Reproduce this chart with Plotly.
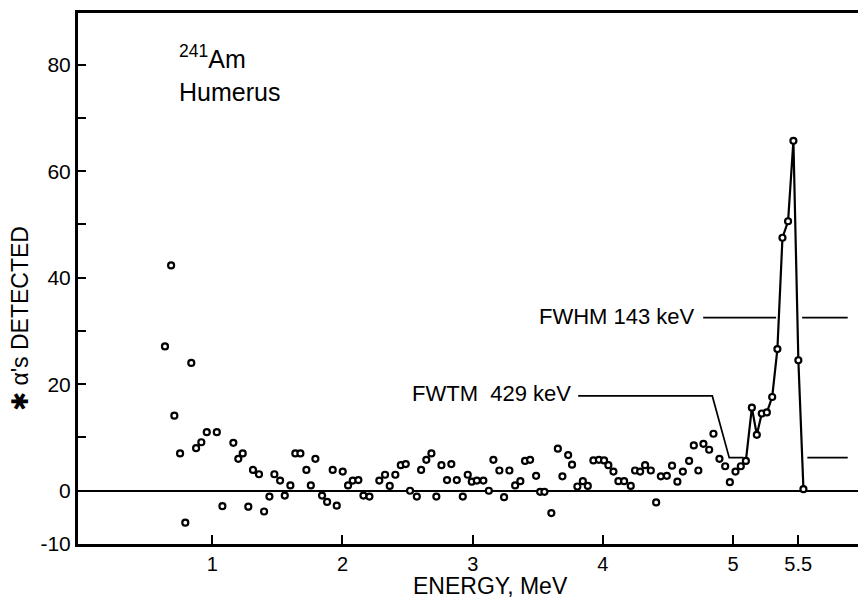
import plotly.graph_objects as go

# ---- data (energy in MeV, counts of alphas) ----
energy_mev = [0.637, 0.684, 0.709, 0.753, 0.793, 0.839, 0.876, 0.916, 0.958, 1.035,
              1.078, 1.162, 1.200, 1.234, 1.277, 1.313, 1.359, 1.398, 1.439, 1.477,
              1.521, 1.557, 1.600, 1.638, 1.677, 1.723, 1.757, 1.792, 1.843, 1.882,
              1.925, 1.956, 2.002, 2.043, 2.079, 2.122, 2.161, 2.207, 2.283, 2.327,
              2.363, 2.406, 2.448, 2.486, 2.519, 2.571, 2.604, 2.644, 2.683, 2.721,
              2.760, 2.803, 2.836, 2.878, 2.924, 2.962, 2.993, 3.032, 3.082, 3.124,
              3.159, 3.205, 3.241, 3.282, 3.326, 3.366, 3.402, 3.441, 3.487, 3.518,
              3.551, 3.604, 3.654, 3.689, 3.733, 3.763, 3.804, 3.846, 3.884, 3.927,
              3.969, 4.009, 4.042, 4.081, 4.119, 4.163, 4.214, 4.247, 4.286, 4.324,
              4.368, 4.409, 4.445, 4.491, 4.531, 4.572, 4.614, 4.662, 4.698, 4.733,
              4.772, 4.816, 4.849, 4.895, 4.939, 4.975, 5.018, 5.059]
alphas = [27.1, 42.3, 14.1, 7.0, -6.0, 24.0, 8.0, 9.1, 11.0, 11.0,
          -2.9, 9.0, 6.0, 7.0, -3.0, 3.9, 3.1, -3.9, -1.1, 3.1,
          1.9, -0.9, 1.0, 7.0, 7.0, 3.9, 1.0, 6.0, -0.9, -2.1,
          3.9, -2.8, 3.6, 1.0, 1.9, 2.0, -0.9, -1.1, 1.9, 3.0,
          0.9, 3.0, 4.8, 5.0, 0.0, -1.1, 3.9, 5.8, 7.0, -1.1,
          4.8, 2.0, 5.0, 2.0, -1.1, 3.0, 1.7, 1.9, 1.9, 0.0,
          5.8, 3.8, -1.2, 3.8, 1.0, 1.8, 5.6, 5.8, 2.8, -0.2,
          -0.2, -4.2, 7.9, 2.7, 6.7, 4.9, 0.8, 1.8, 0.9, 5.7,
          5.8, 5.7, 4.8, 3.6, 1.8, 1.8, 0.9, 3.8, 3.6, 4.8,
          3.8, -2.2, 2.7, 2.8, 4.7, 1.7, 3.6, 5.6, 8.5, 3.8,
          8.8, 7.7, 10.7, 6.0, 4.6, 1.6, 3.6, 4.6]

peak_energy = [5.098, 5.144, 5.182, 5.220, 5.259, 5.300, 5.340, 5.379, 5.422, 5.463, 5.501, 5.540]
peak_alphas = [5.6, 15.6, 10.5, 14.5, 14.7, 17.6, 26.6, 47.5, 50.6, 65.7, 24.5, 0.3]

# FWHM / FWTM guide lines
fwhm_left_x = [4.77, 5.33]
fwhm_right_x = [5.53, 5.88]
fwhm_y = [32.5, 32.5]
fwtm_x = [3.81, 4.84, 4.97, 5.08]
fwtm_y = [17.8, 17.8, 6.2, 6.2]
fwtm_right_x = [5.57, 5.88]
fwtm_right_y = [6.2, 6.2]

x_tickvals = [1, 2, 3, 4, 5, 5.5]
x_ticktext = ["1", "2", "3", "4", "5", "5.5"]
y_tickvals = [-10, 0, 20, 40, 60, 80]
y_ticktext = ["-10", "0", "20", "40", "60", "80"]

FONT = "Liberation Sans, Arial, sans-serif"
BLACK = "#000000"

fig = go.Figure()

line_style = dict(color=BLACK, width=1.7)
fig.add_trace(go.Scatter(x=fwhm_left_x, y=fwhm_y, mode="lines", line=line_style, hoverinfo="skip"))
fig.add_trace(go.Scatter(x=fwhm_right_x, y=fwhm_y, mode="lines", line=line_style, hoverinfo="skip"))
fig.add_trace(go.Scatter(x=fwtm_x, y=fwtm_y, mode="lines", line=line_style, hoverinfo="skip"))
fig.add_trace(go.Scatter(x=fwtm_right_x, y=fwtm_right_y, mode="lines", line=line_style, hoverinfo="skip"))

marker_style = dict(symbol="circle", size=6, color="white", line=dict(color=BLACK, width=2.2))
fig.add_trace(go.Scatter(x=energy_mev, y=alphas, mode="markers", marker=marker_style))
fig.add_trace(go.Scatter(x=peak_energy, y=peak_alphas, mode="lines+markers",
                         line=dict(color=BLACK, width=2.2), marker=marker_style))

fig.update_layout(
    width=858, height=603,
    margin=dict(l=78, r=0, t=13, b=59),
    paper_bgcolor="white", plot_bgcolor="white",
    showlegend=False,
    font=dict(family=FONT, color=BLACK),
    xaxis=dict(range=[-0.031, 5.959], showgrid=False, zeroline=False,
               showline=True, linecolor=BLACK, linewidth=2.5, mirror=True,
               ticks="inside", ticklen=9, tickwidth=2, tickcolor=BLACK,
               tickvals=x_tickvals, ticktext=x_ticktext,
               tickfont=dict(size=20, family=FONT)),
    yaxis=dict(range=[-10, 89.7], showgrid=False,
               zeroline=True, zerolinecolor=BLACK, zerolinewidth=2.2,
               showline=True, linecolor=BLACK, linewidth=3,
               ticks="inside", ticklen=8, tickwidth=2, tickcolor=BLACK,
               tickvals=y_tickvals, ticktext=y_ticktext,
               tickfont=dict(size=21, family=FONT),
               minor=dict(ticks="inside", ticklen=8, tickwidth=2, tickcolor=BLACK,
                          tick0=0, dtick=10, showgrid=False)),
)

ann = [
    dict(text="<sup>241</sup>Am", x=0.127, y=0.918, xanchor="left", yanchor="middle", font=dict(size=25)),
    dict(text="Humerus", x=0.127, y=0.852, xanchor="left", yanchor="middle", font=dict(size=25)),
    dict(text="FWHM 143 keV", x=0.7936, y=0.4275, xanchor="right", yanchor="middle", font=dict(size=22)),
    dict(text="FWTM\u00a0\u00a0429 keV", x=0.6346, y=0.2825, xanchor="right", yanchor="middle", font=dict(size=22)),
    dict(text="ENERGY, MeV", x=0.529, y=-0.080, xanchor="center", yanchor="middle", font=dict(size=23)),
    dict(text="\u2731 \u03b1's DETECTED", x=-0.0744, y=0.4256, xanchor="center", yanchor="middle",
         textangle=-90, font=dict(size=23)),
]
for a in ann:
    a.update(xref="paper", yref="paper", showarrow=False)
    fig.add_annotation(**a)

fig.write_html("out.html")
